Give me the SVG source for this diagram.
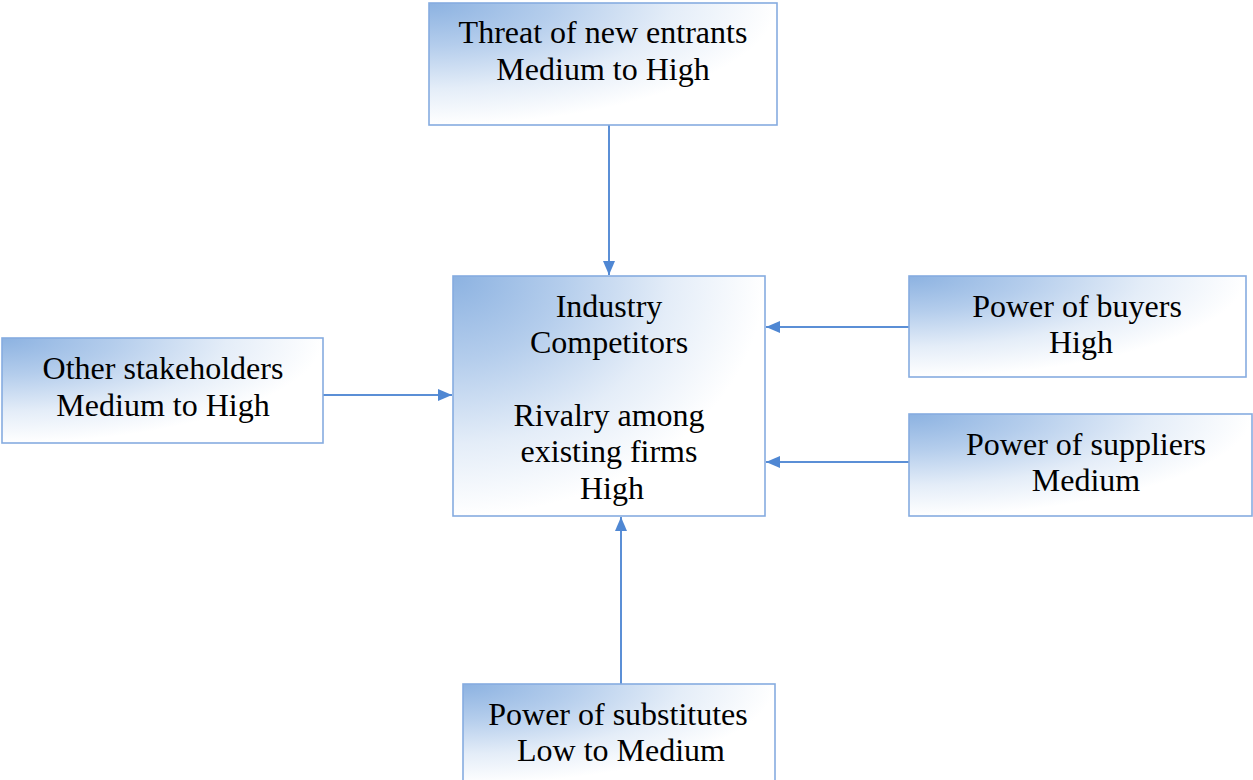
<svg xmlns="http://www.w3.org/2000/svg" width="1253" height="780" viewBox="0 0 1253 780">
  <style>
    .box { fill: url(#g); stroke: #86ace0; stroke-width: 1.6; }
    .t { font-family: "Liberation Serif", "Times New Roman", serif; font-size: 32px; fill: #000; text-anchor: middle; }
    .c { stroke: #5b8fd6; stroke-width: 2; fill: none; marker-end: url(#ah); }
  </style>
  <defs>
    <radialGradient id="g" cx="0" cy="0" r="1" fx="0" fy="0" gradientUnits="objectBoundingBox">
      <stop offset="0" stop-color="#8cb2e1"/>
      <stop offset="0.35" stop-color="#b4cdec"/>
      <stop offset="0.7" stop-color="#e4edf8"/>
      <stop offset="1" stop-color="#ffffff"/>
    </radialGradient>
    <marker id="ah" markerUnits="userSpaceOnUse" markerWidth="14" markerHeight="12" refX="14" refY="6" orient="auto">
      <path d="M0,0 L14,6 L0,12 z" fill="#4f87d3"/>
    </marker>
  </defs>
  <rect width="1253" height="780" fill="#ffffff"/>

  <g id="connectors">
    <line class="c" x1="609" y1="125" x2="609" y2="275"/>
    <line class="c" x1="323" y1="395" x2="452" y2="395"/>
    <line class="c" x1="909" y1="327" x2="766" y2="327"/>
    <line class="c" x1="909" y1="462" x2="766" y2="462"/>
    <line class="c" x1="621" y1="684" x2="621" y2="517"/>
  </g>

  <g id="new-entrants">
    <rect class="box" x="429" y="3" width="348" height="122"/>
    <text class="t" x="603" y="43">Threat of new entrants</text>
    <text class="t" x="603" y="80">Medium to High</text>
  </g>

  <g id="industry-competitors">
    <rect class="box" x="453" y="276" width="312" height="240"/>
    <text class="t" x="609" y="317">Industry</text>
    <text class="t" x="609" y="353">Competitors</text>
    <text class="t" x="609" y="426">Rivalry among</text>
    <text class="t" x="609" y="462">existing firms</text>
    <text class="t" x="612" y="499">High</text>
  </g>

  <g id="other-stakeholders">
    <rect class="box" x="2" y="338" width="321" height="105"/>
    <text class="t" x="163" y="379">Other stakeholders</text>
    <text class="t" x="163" y="416">Medium to High</text>
  </g>

  <g id="buyers">
    <rect class="box" x="909" y="276" width="337" height="101"/>
    <text class="t" x="1077" y="317">Power of buyers</text>
    <text class="t" x="1081" y="353">High</text>
  </g>

  <g id="suppliers">
    <rect class="box" x="909" y="414" width="343" height="102"/>
    <text class="t" x="1086" y="455">Power of suppliers</text>
    <text class="t" x="1086" y="491">Medium</text>
  </g>

  <g id="substitutes">
    <rect class="box" x="463" y="684" width="312" height="100"/>
    <text class="t" x="618" y="725">Power of substitutes</text>
    <text class="t" x="621" y="761">Low to Medium</text>
  </g>
</svg>
